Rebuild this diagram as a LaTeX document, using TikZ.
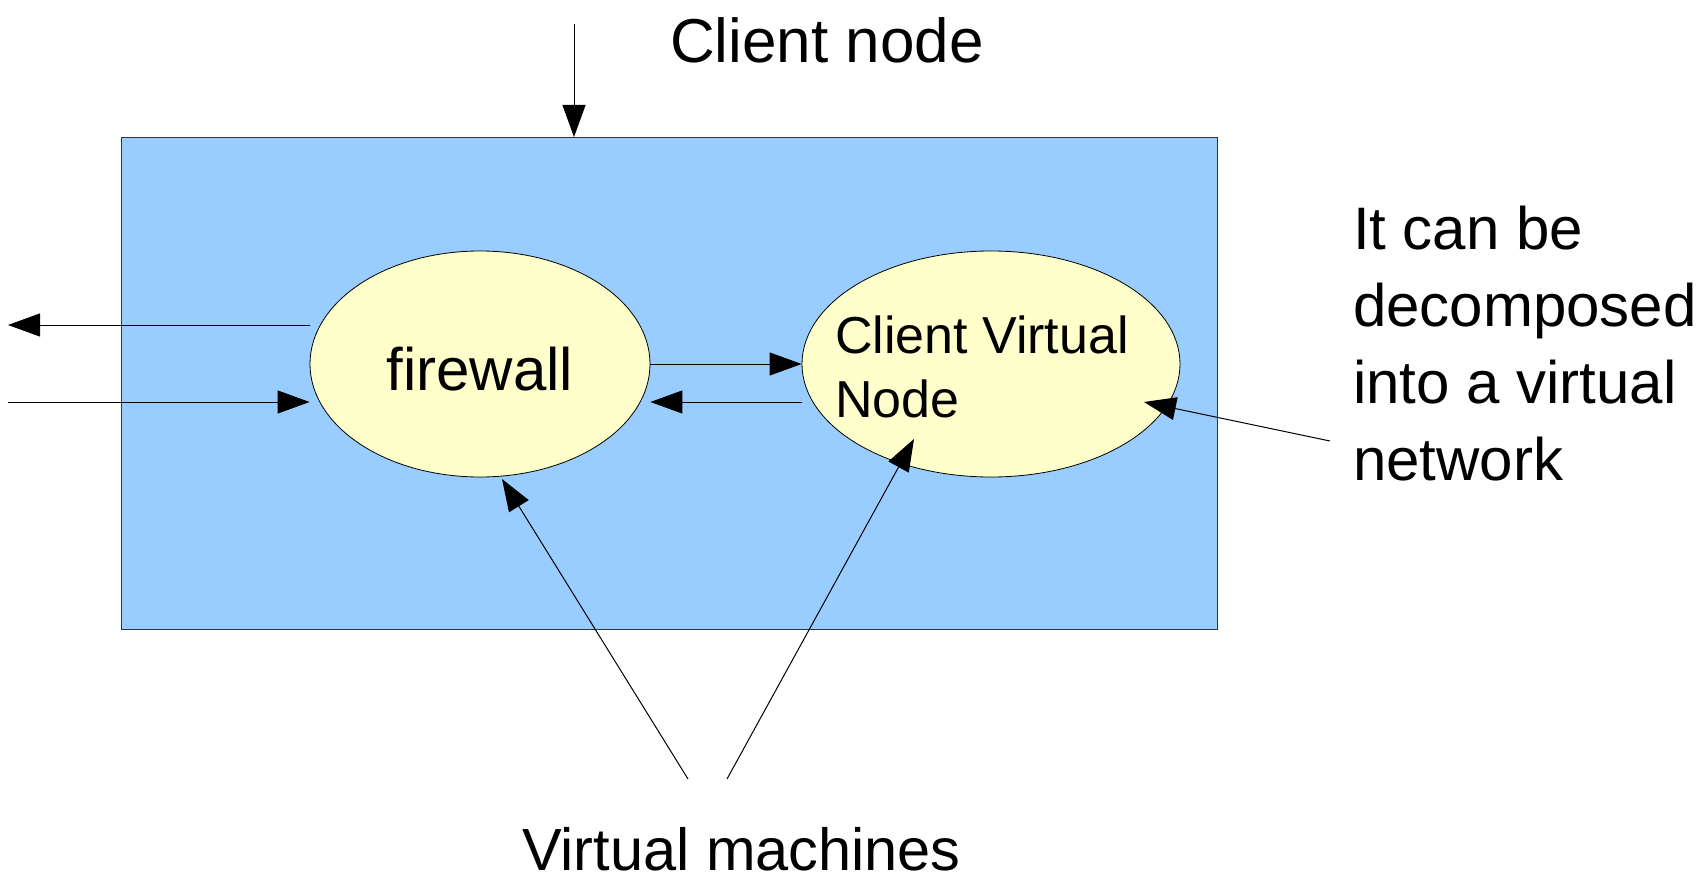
\documentclass[tikz,border=0pt]{standalone}
\usepackage{fontspec}
\setmainfont{Liberation Sans}
\usetikzlibrary{arrows.meta,calc,shapes.geometric}
\definecolor{boxblue}{HTML}{99CCFF}
\definecolor{vmyellow}{HTML}{FFFFCC}
\begin{document}
\begin{tikzpicture}[x=1pt,y=-1pt,
  conn/.style={line width=1pt,-{Triangle[length=32pt,width=23pt]}},
  vm/.style={ellipse,draw=black,line width=0.8pt,fill=vmyellow,minimum width=340pt,minimum height=226pt,inner sep=0pt},
  lbl/.style={inner sep=0pt,outer sep=0pt,text=black}]
\useasboundingbox (0,0) rectangle (1708,880);
% client node box
\node[draw=black!80,line width=1pt,fill=boxblue,minimum width=1096pt,minimum height=492pt,inner sep=0pt,anchor=north west] (box) at (121,137) {};
% ellipses
\node[vm] (fw) at (480,364) {};
\node[vm,minimum width=378pt] (cvn) at (991,364) {};
% labels
\node[lbl,anchor=base west,font=\fontsize{62}{74}\selectfont] (cnlbl) at (670,63) {Client node};
\node[lbl,anchor=base,font=\fontsize{60}{72}\selectfont] (fwlbl) at (480,390) {firewall};
\node[lbl,anchor=base west,align=left,font=\fontsize{52}{64}\selectfont] (cvnlbl) at (835,417) {Client Virtual\\Node};
\node[lbl,anchor=base west,align=left,font=\fontsize{60}{77}\selectfont] (declbl) at (1353,480) {It can be\\decomposed\\into a virtual\\network};
\node[lbl,anchor=base west,font=\fontsize{59.5}{72}\selectfont] (vmlbl) at (522,870) {Virtual machines};
% connector end points
\coordinate (cnstart) at (574,24);
\coordinate (cnend) at (574,137);
\coordinate (outend) at (8,325);
\coordinate (instart) at (8,402);
\coordinate (decstart) at (1330,441);
\coordinate (dectip) at (1144,402);
\coordinate (vma) at (688,779);
\coordinate (vmb) at (727,779);
\coordinate (vmfwtip) at (502,479);
\coordinate (vmcvntip) at (914,439);
% connectors
\draw[conn] (cnstart) -- (cnend);
\draw[conn] ($(fw.west)+(0,-39)$) -- (outend);
\draw[conn] (instart) -- ($(fw.west)+(0,38)$);
\draw[conn] (fw.east) -- (cvn.west);
\draw[conn] ($(cvn.west)+(0,38)$) -- ($(fw.east)+(0,38)$);
\draw[conn] (decstart) -- (dectip);
\draw[conn] (vma) -- (vmfwtip);
\draw[conn] (vmb) -- (vmcvntip);
\end{tikzpicture}
\end{document}
